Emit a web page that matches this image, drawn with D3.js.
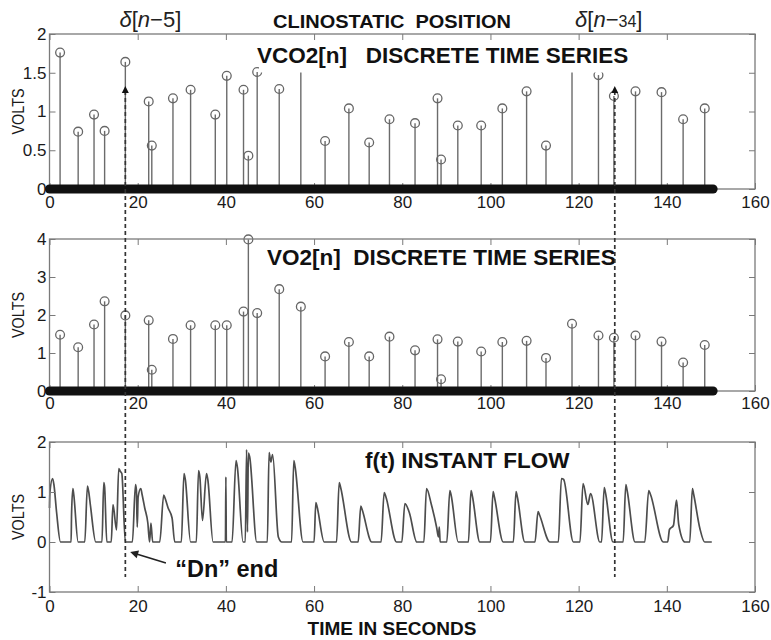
<!DOCTYPE html>
<html>
<head>
<meta charset="utf-8">
<script src="https://cdn.jsdelivr.net/npm/d3@7"></script>
<style>
body { margin: 0; background: #fff; }
text { font-family: "Liberation Sans", Arial, sans-serif; }
</style>
</head>
<body>
<script>
// sample times of the discrete series (seconds)
const stemT = [2.4, 6.5, 10.1, 12.5, 17.2, 22.5, 23.2, 28.0, 32.0, 37.6, 40.2, 44.0, 45.1, 47.1, 52.1, 57.0, 62.5, 67.9,
  72.5, 77.1, 82.9, 88.0, 88.8, 92.6, 97.9, 102.7, 108.2, 112.6, 118.5, 124.5, 128.0, 132.9, 138.8, 143.7, 148.6];
const vco2 = [1.76, 0.74, 0.96, 0.75, 1.64, 1.13, 0.56, 1.17, 1.28, 0.96, 1.46, 1.28, 0.43, 1.51, 1.29, 1.7, 0.62, 1.04,
  0.6, 0.9, 0.85, 1.17, 0.38, 0.82, 0.82, 1.04, 1.26, 0.56, 1.7, 1.47, 1.2, 1.26, 1.25, 0.9, 1.04];
const vo2 = [1.48, 1.15, 1.75, 2.36, 1.99, 1.86, 0.56, 1.37, 1.73, 1.73, 1.73, 2.09, 3.99, 2.05, 2.68, 2.22, 0.91, 1.29,
  0.91, 1.43, 1.07, 1.36, 0.31, 1.30, 1.04, 1.29, 1.32, 0.87, 1.77, 1.46, 1.40, 1.46, 1.30, 0.75, 1.21];
// the zero-valued samples form a solid bar along the bottom
const zeroRun = [0, 150.5];

// instant flow f(t)
const flowT = [0, 0.1, 0.7, 1.0, 1.6, 2.5,
  4.9, 5.0, 5.3, 5.5, 6.5,
  8.0, 8.6, 8.9, 9.3, 10.5,
  11.9, 12.3, 12.5, 13.0,
  14.0, 14.4, 15.2, 15.7, 16.0, 16.4, 17.2,
  18.8, 19.5, 19.7, 19.9, 20.1, 20.7, 21.0, 21.6, 22.3, 22.7, 23.0, 23.4,
  25.0, 25.9, 26.2, 26.9, 27.8, 28.4,
  29.9, 30.5, 30.8, 32.0,
  33.3, 33.8, 34.1, 34.7, 35.6, 35.9, 37.1,
  39.9, 40.0, 40.1, 41.4, 42.3, 42.6, 43.9,
  44.4, 44.7, 44.9, 45.1, 45.4, 47.0,
  49.4, 49.8, 50.2, 50.6, 51.9, 52.7,
  54.9, 55.4, 55.7, 57.5,
  60.0, 60.4, 60.7, 62.3,
  65.1, 65.7, 66.0, 68.5,
  70.0, 70.6, 70.9, 73.1,
  75.2, 75.9, 76.3, 78.7,
  79.9, 80.6, 81.6, 83.3,
  84.9, 85.5, 86.6, 87.8, 88.2, 88.4, 88.6,
  90.1, 90.8, 91.1, 92.7,
  95.0, 95.6, 95.9, 97.6,
  100.0, 100.6, 100.9, 102.9,
  105.2, 105.8, 106.1, 107.8,
  110.1, 110.8, 111.1, 113.5,
  115.4, 116.1, 116.6, 118.8,
  120.3, 121.0, 122.1, 122.7, 124.8,
  125.2, 125.8, 126.1, 127.8,
  130.1, 130.7, 131.0, 132.8,
  135.0, 135.9, 136.3, 139.2,
  140.2, 140.6, 141.5, 142.2, 142.7, 144.1,
  145.2, 145.8, 146.1, 147.5, 148.6, 150.2];
const flowV = [0.68, 1.0, 1.27, 1.15, 0.6, 0,
  0, 0.55, 1.07, 0.95, 0,
  0, 1.12, 1.0, 0.72, 0,
  0, 1.19, 1.1, 0,
  0, 0.75, 0.24, 1.47, 1.42, 1.37, 0,
  0, 1.15, 1.05, 0.3, 0.9, 1.07, 0.95, 0.68, 0.38, 0, 0.38, 0,
  0, 0.94, 0.88, 0.68, 0.48, 0,
  0, 1.37, 1.25, 0,
  0, 1.43, 1.3, 0.43, 1.37, 1.25, 0,
  0, 1.3, 0, 0, 1.63, 1.5, 0,
  0, 1.85, 0.2, 1.78, 1.7, 0,
  0, 1.79, 1.6, 1.75, 0.1, 0,
  0, 1.63, 1.5, 0,
  0, 0.79, 0.7, 0,
  0, 1.19, 1.1, 0,
  0, 0.72, 0.65, 0,
  0, 0.99, 0.9, 0,
  0, 0.77, 0.59, 0,
  0, 1.07, 0.75, 0.29, 0.1, 0.3, 0,
  0, 1.03, 0.93, 0,
  0, 1.03, 0.92, 0,
  0, 1.01, 0.9, 0,
  0, 1.01, 0.9, 0,
  0, 0.61, 0.55, 0,
  0, 1.27, 1.25, 0,
  0, 1.17, 0.75, 0.97, 0,
  0, 1.09, 0.98, 0,
  0, 1.15, 1.03, 0,
  0, 1.03, 0.95, 0,
  0, 0.25, 0.33, 0.84, 0.35, 0,
  0, 1.07, 0.95, 0.27, 0, 0];

// delta markers (seconds)
const markT = [17.2, 128.2];
const markLabel = ["5", "34"];

const xTicks = [0, 20, 40, 60, 80, 100, 120, 140, 160];
const vco2Ticks = [0, 0.5, 1, 1.5, 2];
const vo2Ticks = [0, 1, 2, 3, 4];
const flowTicks = [-1, 0, 1, 2];

const W = 771, H = 640;
const svg = d3.select("body").append("svg")
  .attr("width", W)
  .attr("height", H);

const x = d3.scaleLinear().domain([0, 160]).range([49.5, 755]);
const yTop = d3.scaleLinear().domain([0, 2]).range([189, 34]);
const yMid = d3.scaleLinear().domain([0, 4]).range([391, 239]);
const yBot = d3.scaleLinear().domain([-1, 2]).range([592, 442]);

const frameCol = "#7a7a7a";

function drawAxes(y, yTicks, pad) {
  const g = svg.append("g");
  const y0 = y.range()[0], y1 = y.range()[1];

  const bx = g.append("g").attr("transform", `translate(0,${y0})`)
    .call(d3.axisBottom(x).tickValues(xTicks).tickSize(-6).tickPadding(pad).tickFormat(d3.format("d")));
  const tx = g.append("g").attr("transform", `translate(0,${y1})`)
    .call(d3.axisTop(x).tickValues(xTicks).tickSize(-6).tickFormat(""));
  const ly = g.append("g").attr("transform", `translate(${x(0)},0)`)
    .call(d3.axisLeft(y).tickValues(yTicks).tickSize(-6).tickPadding(3).tickFormat(d => d));
  const ry = g.append("g").attr("transform", `translate(${x(160)},0)`)
    .call(d3.axisRight(y).tickValues(yTicks).tickSize(-6).tickFormat(""));

  [bx, tx, ly, ry].forEach(a => {
    a.select(".domain").remove();
    a.selectAll("line").attr("stroke", frameCol);
    a.selectAll("text")
      .attr("font-family", "'Liberation Sans', Arial, sans-serif")
      .attr("font-size", 17)
      .attr("fill", "#1a1a1a");
  });

  g.append("rect")
    .attr("x", x(0)).attr("y", y1)
    .attr("width", x(160) - x(0)).attr("height", y0 - y1)
    .attr("fill", "none")
    .attr("stroke", frameCol)
    .attr("stroke-width", 1.3);
  return g;
}

function drawStems(y, vals) {
  const g = svg.append("g");
  g.selectAll("line")
    .data(vals)
    .enter()
    .append("line")
    .attr("x1", (d, i) => x(stemT[i]))
    .attr("x2", (d, i) => x(stemT[i]))
    .attr("y1", y(0))
    .attr("y2", d => y(d))
    .attr("stroke", "#6b6b6b")
    .attr("stroke-width", 1.4);
  g.selectAll("circle")
    .data(vals)
    .enter()
    .append("circle")
    .attr("cx", (d, i) => x(stemT[i]))
    .attr("cy", d => y(d))
    .attr("r", 4.4)
    .attr("fill", "none")
    .attr("stroke", "#666")
    .attr("stroke-width", 1.3);
}

function drawZeroRun(y) {
  svg.append("line")
    .attr("x1", x(zeroRun[0]))
    .attr("x2", x(zeroRun[1]))
    .attr("y1", y(0))
    .attr("y2", y(0))
    .attr("stroke", "#111")
    .attr("stroke-width", 9)
    .attr("stroke-linecap", "round");
}

function ylabel(y) {
  const cy = (y.range()[0] + y.range()[1]) / 2;
  svg.append("text")
    .attr("transform", `translate(24,${cy}) rotate(-90)`)
    .attr("text-anchor", "middle")
    .attr("font-size", 16.5)
    .attr("textLength", 46)
    .attr("lengthAdjust", "spacingAndGlyphs")
    .attr("fill", "#1a1a1a")
    .text("VOLTS");
}

// ---- panel 1: VCO2
drawStems(yTop, vco2);
// title sits on a white box that hides the stem tips behind it
svg.append("rect")
  .attr("x", 259).attr("y", 42)
  .attr("width", 380).attr("height", 30.5)
  .attr("fill", "#fff");
svg.append("text")
  .attr("x", 257).attr("y", 62.5)
  .attr("font-size", 22.5)
  .attr("font-weight", "bold")
  .attr("fill", "#111")
  .style("white-space", "pre")
  .text("VCO2[n]   DISCRETE TIME SERIES");
drawAxes(yTop, vco2Ticks, 7);
drawZeroRun(yTop);
ylabel(yTop);

// ---- panel 2: VO2
drawStems(yMid, vo2);
svg.append("text")
  .attr("x", 267).attr("y", 265)
  .attr("font-size", 22.5)
  .attr("font-weight", "bold")
  .attr("fill", "#111")
  .style("white-space", "pre")
  .text("VO2[n]  DISCRETE TIME SERIES");
drawAxes(yMid, vo2Ticks, 5.5);
drawZeroRun(yMid);
ylabel(yMid);

// ---- panel 3: instant flow
const flow = flowT.map((t, i) => [t, flowV[i]]);
svg.append("path")
  .datum(flow)
  .attr("d", d3.line().curve(d3.curveMonotoneX).x(d => x(d[0])).y(d => yBot(d[1])))
  .attr("fill", "none")
  .attr("stroke", "#4d4d4d")
  .attr("stroke-width", 1.7)
  .attr("stroke-linejoin", "round");
svg.append("text")
  .attr("x", 365).attr("y", 468)
  .attr("font-size", 22.5)
  .attr("font-weight", "bold")
  .attr("fill", "#111")
  .text("f(t) INSTANT FLOW");
drawAxes(yBot, flowTicks, 7.5);
ylabel(yBot);

svg.append("text")
  .attr("x", 392).attr("y", 635)
  .attr("text-anchor", "middle")
  .attr("font-size", 19)
  .attr("font-weight", "bold")
  .attr("fill", "#111")
  .text("TIME IN SECONDS");

// ---- delta markers: dashed lines through all panels
const labelShift = [25, -6];
markT.forEach((t, i) => {
  const xm = x(t);
  const yTip = yTop(1.33);
  svg.append("line")
    .attr("x1", xm).attr("x2", xm)
    .attr("y1", yTip + 5).attr("y2", yBot(-0.7))
    .attr("stroke", "#333")
    .attr("stroke-width", 1.7)
    .attr("stroke-dasharray", "4,3");
  svg.append("path")
    .attr("d", `M${xm},${yTip} L${xm - 3.5},${yTip + 7} L${xm + 3.5},${yTip + 7} Z`)
    .attr("fill", "#111");

  const lab = svg.append("text")
    .attr("x", xm + labelShift[i]).attr("y", 27)
    .attr("text-anchor", "middle")
    .attr("font-family", "'Liberation Serif', 'DejaVu Serif', serif")
    .attr("font-size", 22)
    .attr("fill", "#222");
  lab.append("tspan").attr("font-style", "italic").text("δ");
  lab.append("tspan").text("[");
  lab.append("tspan").attr("font-style", "italic").text("n");
  lab.append("tspan").text("−");
  lab.append("tspan").attr("font-size", i ? 16 : 22).text(markLabel[i]);
  lab.append("tspan").text("]");
});

svg.append("text")
  .attr("x", 273).attr("y", 28)
  .attr("font-size", 17.5)
  .attr("font-weight", "bold")
  .attr("fill", "#111")
  .attr("textLength", 238)
  .attr("lengthAdjust", "spacingAndGlyphs")
  .style("white-space", "pre")
  .text("CLINOSTATIC  POSITION");

// ---- "Dn" end note with arrow
const ax0 = x(26.4), ay0 = yBot(-0.42);
const ax1 = x(18.3), ay1 = yBot(-0.2);
const ang = Math.atan2(ay1 - ay0, ax1 - ax0);
svg.append("line")
  .attr("x1", ax0).attr("y1", ay0)
  .attr("x2", ax1 - 5 * Math.cos(ang)).attr("y2", ay1 - 5 * Math.sin(ang))
  .attr("stroke", "#222")
  .attr("stroke-width", 1.6);
svg.append("path")
  .attr("d", () => {
    const a = 8, w = 4;
    const bx = ax1 - a * Math.cos(ang), by = ay1 - a * Math.sin(ang);
    return `M${ax1},${ay1} L${bx - w * Math.sin(ang)},${by + w * Math.cos(ang)} L${bx + w * Math.sin(ang)},${by - w * Math.cos(ang)} Z`;
  })
  .attr("fill", "#222");
svg.append("text")
  .attr("x", x(28.5)).attr("y", yBot(-0.69))
  .attr("font-size", 23.5)
  .attr("font-weight", "bold")
  .attr("fill", "#111")
  .text("“Dn” end");
</script>
</body>
</html>
